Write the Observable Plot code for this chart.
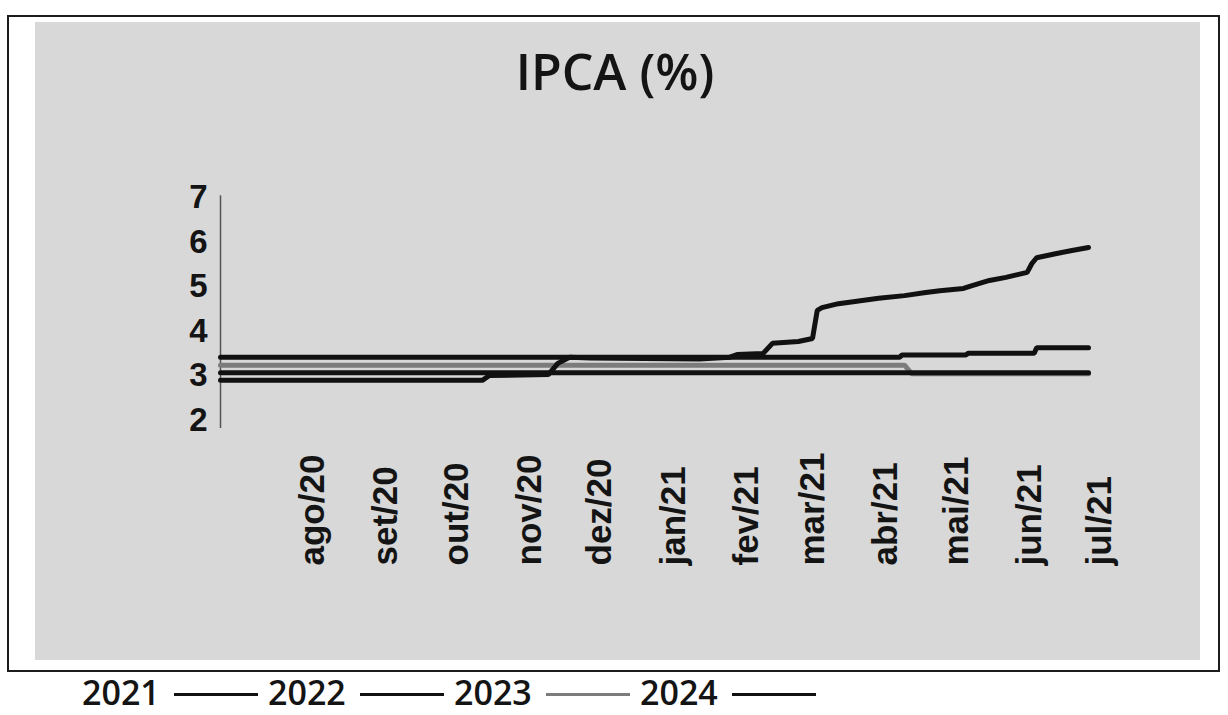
<!DOCTYPE html>
<html>
<head>
<meta charset="utf-8">
<script src="https://cdn.jsdelivr.net/npm/d3@7"></script>
<script src="https://cdn.jsdelivr.net/npm/@observablehq/plot@0.6"></script>
<style>
  html, body { margin: 0; padding: 0; background: #ffffff; }
  #wrap { position: relative; width: 1228px; height: 715px; overflow: hidden; }
  #border { position: absolute; left: 7px; top: 15px; width: 1209px; height: 653px; border: 2px solid #1c1c1c; }
  #panel { position: absolute; left: 35px; top: 22px; width: 1165px; height: 638px; background: #d8d8d8; }
  #title { position: absolute; left: 415px; top: 46px; width: 400px; text-align: center;
           font-family: "Open Sans", sans-serif; font-size: 50px; line-height: 50px; font-weight: 600; color: #141414; }
  #chart { position: absolute; left: 0; top: 0; }
  #legend { position: absolute; left: 82px; top: 680px; display: flex; align-items: center;
            font-family: "Open Sans", sans-serif; font-size: 34px; font-weight: 600; color: #141414; line-height: 24px; }
  #legend .lbl { display: inline-block; width: 82px; }
  #legend .sw { display: inline-block; width: 84px; height: 3px; margin: 4px 10px 0 10px; }
</style>
</head>
<body>
<div id="wrap">
  <div id="border"></div>
  <div id="panel"></div>
  <div id="title"></div>
  <div id="chart"></div>
  <div id="legend"></div>
</div>
<script>
// ---------- data ----------
const titleText = "IPCA (%)";
const seriesNames = ["2021", "2022", "2023", "2024"];
const seriesColors = ["#111111", "#111111", "#7c7c7c", "#111111"];

const dates2021 = ["2020-06-23","2020-10-12","2020-10-15","2020-11-09","2020-11-13","2020-11-18","2020-11-27",
  "2021-01-12","2021-01-25","2021-01-28","2021-02-08","2021-02-12","2021-02-23","2021-03-01","2021-03-03",
  "2021-03-05","2021-03-12","2021-03-19","2021-03-29","2021-04-09","2021-04-18","2021-04-24","2021-05-04",
  "2021-05-08","2021-05-15","2021-05-22","2021-05-31","2021-06-02","2021-06-04","2021-06-12","2021-06-19","2021-06-26"];
const values2021 = [2.90,2.90,3.01,3.03,3.28,3.42,3.40,
  3.38,3.42,3.48,3.50,3.73,3.77,3.84,4.47,
  4.53,4.62,4.67,4.74,4.80,4.87,4.91,4.96,
  5.03,5.14,5.21,5.32,5.52,5.65,5.74,5.81,5.88];

const dates2022 = ["2020-06-23","2021-04-07","2021-04-08","2021-05-05","2021-05-06","2021-06-03","2021-06-04","2021-06-26"];
const values2022 = [3.42,3.42,3.47,3.47,3.51,3.51,3.63,3.63];

const dates2023 = ["2020-06-23","2021-04-09","2021-04-12","2021-06-26"];
const values2023 = [3.24,3.24,3.05,3.05];

const dates2024 = ["2020-06-23","2021-06-26"];
const values2024 = [3.07,3.07];

const monthDates = ["2020-08-01","2020-09-01","2020-10-01","2020-11-01","2020-12-01","2021-01-01",
  "2021-02-01","2021-03-01","2021-04-01","2021-05-01","2021-06-01","2021-07-01"];
const monthLabels = ["ago/20","set/20","out/20","nov/20","dez/20","jan/21",
  "fev/21","mar/21","abr/21","mai/21","jun/21","jul/21"];
const yTicks = [2, 3, 4, 5, 6, 7];

// ---------- build tables ----------
const seriesDates = [dates2021, dates2022, dates2023, dates2024];
const seriesValues = [values2021, values2022, values2023, values2024];
const rows = [];
seriesNames.forEach((name, i) => {
  seriesDates[i].forEach((d, j) => rows.push({series: name, date: new Date(d), value: seriesValues[i][j]}));
});
const months = monthDates.map((d, i) => ({date: new Date(d), label: monthLabels[i]}));
const xDomain = [new Date(dates2021[0]), new Date(dates2021[dates2021.length - 1])];
const drawOrder = ["2023", "2024", "2022", "2021"];

document.getElementById("title").textContent = titleText;

const chart = Plot.plot({
  width: 1228,
  height: 680,
  marginLeft: 220,
  marginRight: 140,
  marginTop: 197,
  marginBottom: 260,
  style: {background: "transparent", overflow: "visible"},
  x: {type: "utc", domain: xDomain, axis: null},
  y: {domain: [2, 7], axis: null},
  color: {domain: seriesNames, range: seriesColors},
  marks: [
    Plot.ruleX([xDomain[0]], {y1: 1.82, y2: 7.04, stroke: "#555555", strokeWidth: 1.5}),
    Plot.axisY(yTicks, {tickSize: 0, tickPadding: 13, fontSize: 33, fontWeight: "bold",
      fontFamily: "Liberation Sans, Arial, sans-serif", fill: "#141414", label: null}),
    ...drawOrder.map(name => Plot.line(rows.filter(r => r.series === name),
      {x: "date", y: "value", stroke: "series", strokeWidth: 5, strokeLinejoin: "miter"})),
    Plot.text(months, {x: "date", text: "label", frameAnchor: "bottom", rotate: -90,
      textAnchor: "start", lineAnchor: "middle", dy: 145, fontSize: 35, fontWeight: "bold",
      fontFamily: "Liberation Sans, Arial, sans-serif", fill: "#141414"})
  ]
});
document.getElementById("chart").appendChild(chart);

// ---------- legend ----------
const legend = document.getElementById("legend");
seriesNames.forEach((name, i) => {
  const t = document.createElement("span");
  t.className = "lbl";
  t.textContent = name;
  legend.appendChild(t);
  const s = document.createElement("span");
  s.className = "sw";
  s.style.background = seriesColors[i];
  legend.appendChild(s);
});
</script>
</body>
</html>
